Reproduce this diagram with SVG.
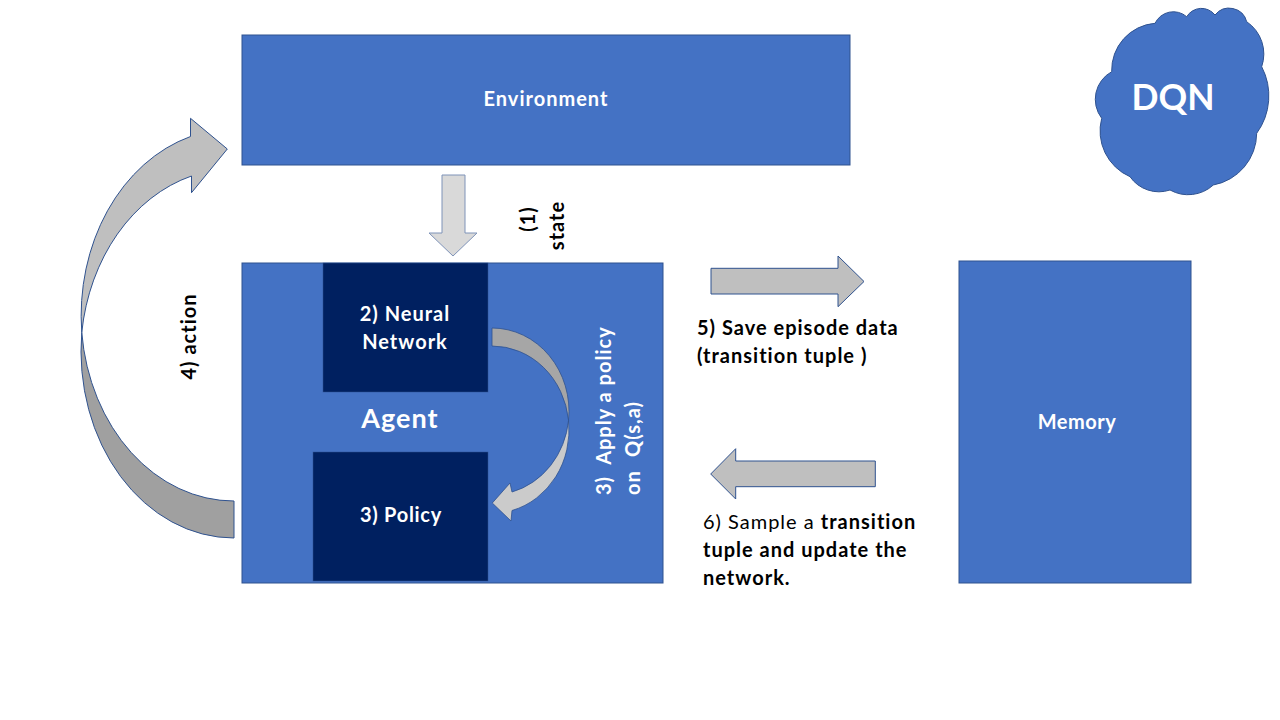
<svg xmlns="http://www.w3.org/2000/svg" width="1280" height="720" viewBox="0 0 1280 720">
<style>
  .box { fill: #4472C4; stroke: #2F528F; stroke-width: 1; }
  .dark { fill: #002060; stroke: #2F528F; stroke-width: 0.5; }
  .wt { font-family: Lato, "Open Sans", sans-serif; font-weight: bold; fill: #FFFFFF; }
  .bt { font-family: Lato, "Open Sans", sans-serif; font-weight: bold; fill: #000000; }
  .rt { font-family: Lato, "Open Sans", sans-serif; font-weight: normal; fill: #000000; }
  .lbl { font-size: 20px; letter-spacing: 1px; }
  .arr { fill: #BFBFBF; stroke: #2F528F; stroke-width: 1; }
</style>
<rect width="1280" height="720" fill="#FFFFFF"/>

<g id="environment">
  <rect class="box" x="242" y="35" width="608" height="130"/>
  <text class="wt lbl" x="546" y="106" text-anchor="middle">Environment</text>
</g>

<g id="agent">
  <rect class="box" x="242" y="263" width="421" height="320"/>
  <text class="wt" x="400" y="428" font-size="27" letter-spacing="1" text-anchor="middle">Agent</text>
</g>

<g id="neural-network">
  <rect class="dark" x="323" y="263" width="165" height="129"/>
  <text class="wt lbl" x="405" y="321" text-anchor="middle">2) Neural</text>
  <text class="wt lbl" x="405" y="349" text-anchor="middle">Network</text>
</g>

<g id="policy">
  <rect class="dark" x="313" y="452" width="175" height="129"/>
  <text class="wt" x="401" y="522" font-size="20" letter-spacing="0.7" text-anchor="middle">3) Policy</text>
</g>

<g id="memory">
  <rect class="box" x="959" y="261" width="232" height="322"/>
  <text class="wt" x="1077" y="429" font-size="20" letter-spacing="0.5" text-anchor="middle">Memory</text>
</g>

<g id="dqn">
  <path class="box" d="M 1111.7 71.7 A 47 47 0 0 1 1155 23.3 A 20.4 20.4 0 0 1 1186.7 16.7 A 17.2 17.2 0 0 1 1215 15 A 18.1 18.1 0 0 1 1246.7 21.7 A 39 39 0 0 1 1261.7 66.7 A 63.6 63.6 0 0 1 1256.7 133.3 A 53 53 0 0 1 1213.3 185 A 37.4 37.4 0 0 1 1170 190 A 35.3 35.3 0 0 1 1130 176.7 A 49.9 49.9 0 0 1 1101.7 118.3 A 31.4 31.4 0 0 1 1111.7 71.7 Z"/>
  <text class="wt" x="1173" y="110" font-size="35.5" text-anchor="middle">DQN</text>
</g>

<g id="connectors">
  <!-- (1) state arrow -->
  <path d="M 442 175 L 465 175 L 465 233 L 477 233 L 453 256 L 429 233 L 442 233 Z" fill="#D9D9D9" stroke="#7F93B8" stroke-width="1"/>
  <!-- 4) action curved arrow -->
  <path d="M 81.75 332.5 A 153 187 0 0 0 234 538 L 234 501 A 153 187 0 0 1 81.75 332.5 Z" fill="#A0A0A0" stroke="#2F528F" stroke-width="1"/>
  <path d="M 81.75 332.5 A 153 187 0 0 1 190.5 136.5 L 190.5 118.3 L 227.3 149 L 191.5 192.7 L 191.5 176 A 153 187 0 0 0 81.75 332.5 Z" fill="#BFBFBF" stroke="#2F528F" stroke-width="1"/>
  <!-- 3) apply policy curved arrow -->
  <path d="M 492 328 A 77 83.4 0 0 1 568.55 420.4 A 77 83.4 0 0 0 492 346 Z" fill="#A6A6A6" stroke="#2F528F" stroke-width="0.8"/>
  <path d="M 568.55 420.4 A 77 83.4 0 0 1 512 510.5 L 511 521 L 492.3 503 L 510 483 L 512 492 A 77 83.4 0 0 0 568.55 420.4 Z" fill="#CBCBCB" stroke="#2F528F" stroke-width="0.8"/>
  <!-- 5) save arrow -->
  <path class="arr" d="M 711 268.3 L 838 268.3 L 838 256 L 864 281.5 L 838 306.7 L 838 294 L 711 294 Z"/>
  <!-- 6) sample arrow -->
  <path class="arr" d="M 875.3 461 L 735.7 461 L 735.7 448.7 L 710.7 474 L 735.7 499 L 735.7 486.7 L 875.3 486.7 Z"/>

  <text class="bt lbl" text-anchor="middle" transform="translate(535,219) rotate(-90)">(1)</text>
  <text class="bt lbl" text-anchor="middle" transform="translate(564,225.5) rotate(-90)">state</text>
  <text class="bt lbl" text-anchor="middle" transform="translate(196,336.5) rotate(-90)">4) action</text>
  <text class="wt lbl" xml:space="preserve" transform="translate(611,495) rotate(-90)">3)  Apply a policy</text>
  <text class="wt lbl" transform="translate(640,495) rotate(-90)"><tspan x="0">on</tspan><tspan x="38">Q(s,a)</tspan></text>

  <text class="bt lbl" x="697" y="335">5) Save episode data</text>
  <text class="bt lbl" x="697" y="363">(transition tuple )</text>

  <text class="lbl" x="703" y="529"><tspan class="rt">6) Sample a </tspan><tspan class="bt">transition</tspan></text>
  <text class="bt lbl" x="703" y="557">tuple and update the</text>
  <text class="bt lbl" x="703" y="585">network.</text>
</g>
</svg>
